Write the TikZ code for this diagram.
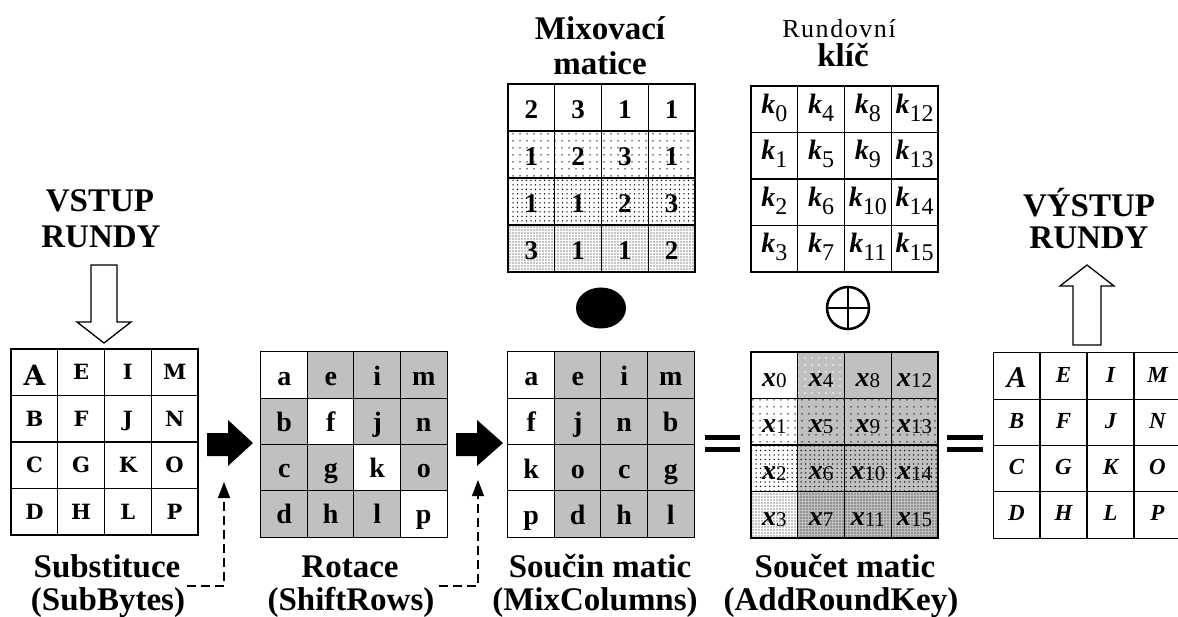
\documentclass[tikz,border=0pt]{standalone}
\usepackage{fontspec}
\setmainfont{Liberation Serif}
\newfontfamily\dejaserif{DejaVu Serif}
\usetikzlibrary{patterns.meta,arrows.meta,shapes.geometric}
\definecolor{cgray}{HTML}{C0C0C0}
\newcommand\fsz[1]{\fontsize{#1}{#1}\selectfont}
\newcommand\kk[1]{{\bfseries\itshape k}\raisebox{-8pt}{\fsz{24}#1}}
\newcommand\xx[1]{{\bfseries\itshape x}\raisebox{-1pt}{\fsz{21}#1}}
\tikzset{
 cell/.style={draw=black, line width=1.2pt, minimum width=46.75pt, minimum height=46.5pt, inner sep=0pt, text depth=0pt},
 lbl/.style={font=\fsz{33}\bfseries, inner sep=0pt, anchor=base},
 hollow/.style={draw=black, line width=1.3pt, fill=white, line join=miter},
 dasharrow/.style={draw=black, line width=1.2pt, dash pattern=on 9pt off 5pt, -{Triangle[width=12pt,length=16pt]}},
 sparse/.style={pattern={Dots[distance=6.5pt,radius=0.8pt]}, pattern color=black},
 medium/.style={pattern={Dots[distance=4.5pt,radius=0.75pt]}, pattern color=black},
 dense/.style={pattern={Dots[distance=3pt,radius=0.65pt]}, pattern color=black},
 wsparse/.style={pattern={Dots[distance=7pt,radius=0.8pt]}, pattern color=white},
 bararrow/.style={fill=black},
}
\begin{document}
\begin{tikzpicture}[x=1pt,y=-1pt]
\useasboundingbox (0,0) rectangle (1178,617);

% ---------- input state ----------
\foreach \t [count=\i from 0] in {{\raisebox{-6pt}{\fsz{28}\bfseries A}},E,I,M,B,F,J,N,C,G,K,O,D,H,L,P} {
  \pgfmathtruncatemacro\ri{\i/4}
  \pgfmathtruncatemacro\ci{mod(\i,4)}
  \node[cell, font=\dejaserif\fsz{21}\bfseries, text height=15pt] (in-\ri-\ci) at ({11+46.75*(\ci+0.5)},{349+46.5*(\ri+0.5)}) {\t};
}

% ---------- ShiftRows ----------
\foreach \t/\f [count=\i from 0] in {a/white,e/cgray,i/cgray,m/cgray,b/cgray,f/white,j/cgray,n/cgray,c/cgray,g/cgray,k/white,o/cgray,d/cgray,h/cgray,l/cgray,p/white} {
  \pgfmathtruncatemacro\ri{\i/4}
  \pgfmathtruncatemacro\ci{mod(\i,4)}
  \node[cell, fill=\f, font=\fsz{28}\bfseries, text height=20pt] (sr-\ri-\ci) at ({261+46.5*(\ci+0.5)},{352+46.25*(\ri+0.5)}) {\t};
}

% ---------- mix matrix ----------
\path[sparse] (508,131) rectangle (695,178);
\path[medium] (508,178) rectangle (695,225);
\path[dense] (508,225) rectangle (695,272);
\foreach \t [count=\i from 0] in {2,3,1,1,1,2,3,1,1,1,2,3,3,1,1,2} {
  \pgfmathtruncatemacro\ri{\i/4}
  \pgfmathtruncatemacro\ci{mod(\i,4)}
  \node[cell, minimum height=47pt, font=\fsz{27}\bfseries, text height=22pt] (mx-\ri-\ci) at ({508+46.75*(\ci+0.5)},{84+47*(\ri+0.5)}) {\t};
}

% ---------- round key ----------
\foreach \t [count=\i from 0] in {0,4,8,12,1,5,9,13,2,6,10,14,3,7,11,15} {
  \pgfmathtruncatemacro\ri{\i/4}
  \pgfmathtruncatemacro\ci{mod(\i,4)}
  \node[cell, font=\fsz{28}, text height=8pt] (rk-\ri-\ci) at ({751+46.75*(\ci+0.5)},{86+46.5*(\ri+0.5)}) {\kk{\t}};
}

% ---------- MixColumns result ----------
\foreach \t/\f [count=\i from 0] in {a/white,e/cgray,i/cgray,m/cgray,f/white,j/cgray,n/cgray,b/cgray,k/white,o/cgray,c/cgray,g/cgray,p/white,d/cgray,h/cgray,l/cgray} {
  \pgfmathtruncatemacro\ri{\i/4}
  \pgfmathtruncatemacro\ci{mod(\i,4)}
  \node[cell, fill=\f, font=\fsz{28}\bfseries, text height=21pt] (mc-\ri-\ci) at ({508+46.5*(\ci+0.5)},{352+46.25*(\ri+0.5)}) {\t};
}

% ---------- AddRoundKey result ----------
\fill[cgray] (797.75,352) rectangle (938,538);
\path[wsparse] (797.75,352) rectangle (844.5,398.5);
\path[sparse] (751,398.5) rectangle (938,445);
\path[medium] (751,445) rectangle (938,491.5);
\path[dense] (751,491.5) rectangle (938,538);
\foreach \t [count=\i from 0] in {0,4,8,12,1,5,9,13,2,6,10,14,3,7,11,15} {
  \pgfmathtruncatemacro\ri{\i/4}
  \pgfmathtruncatemacro\ci{mod(\i,4)}
  \node[cell, font=\fsz{28}, text height=22pt] (ak-\ri-\ci) at ({751+46.75*(\ci+0.5)},{352+46.5*(\ri+0.5)}) {\xx{\t}};
}

% ---------- output state ----------
\foreach \t [count=\i from 0] in {{\raisebox{-5pt}{\fsz{30}A}},E,I,M,B,F,J,N,C,G,K,O,D,H,L,P} {
  \pgfmathtruncatemacro\ri{\i/4}
  \pgfmathtruncatemacro\ci{mod(\i,4)}
  \node[cell, font=\fsz{23}\bfseries\itshape, text height=12pt] (out-\ri-\ci) at ({993+47*(\ci+0.5)},{353+46.25*(\ri+0.5)}) {\t};
}

% ---------- labels ----------
\node[lbl] (vs1) at (100,212) {VSTUP};
\node[lbl] (vs2) at (101,248) {RUNDY};
\node[lbl] (vy1) at (1089,217) {VÝSTUP};
\node[lbl] (vy2) at (1089,249) {RUNDY};
\node[lbl] (mt1) at (600,40) {Mixovací};
\node[lbl] (mt2) at (600,75) {matice};
\node[lbl, font=\fsz{26}\addfontfeature{LetterSpace=6}] (kl1) at (839,38) {Rundovní};
\node[lbl] (kl2) at (843,67) {klíč};
\node[lbl] (sb1) at (107,577) {Substituce};
\node[lbl] (sb2) at (108,610) {(SubBytes)};
\node[lbl] (sh1) at (350,577) {Rotace};
\node[lbl] (sh2) at (351,610) {(ShiftRows)};
\node[lbl] (mc1) at (600,577) {Součin matic};
\node[lbl] (mc2) at (595,610) {(MixColumns)};
\node[lbl] (ad1) at (845,577) {Součet matic};
\node[lbl] (ad2) at (841,610) {(AddRoundKey)};

% ---------- hollow in/out arrows ----------
\draw[hollow] (91,265) -- (117,265) -- (117,322) -- (131,322) -- (104,343) -- (77,322) -- (91,322) -- cycle;
\draw[hollow] (1087,265) -- (1114,286) -- (1101,286) -- (1101,345) -- (1073,345) -- (1073,286) -- (1060,286) -- cycle;

% ---------- black block arrows ----------
\fill[bararrow] (207,433) -- (228,433) -- (228,420) -- (253,443) -- (228,466) -- (228,456) -- (207,456) -- cycle;
\fill[bararrow] (456,433) -- (477,433) -- (477,420) -- (503,443) -- (477,466) -- (477,456) -- (456,456) -- cycle;

% ---------- dashed arrows ----------
\coordinate (d1a) at (187,586);
\coordinate (d1b) at (224,482);
\coordinate (d2a) at (439,586);
\coordinate (d2b) at (478,480);
\draw[dasharrow] (d1a) -| (d1b);
\draw[dasharrow] (d2a) -| (d2b);

% ---------- operators ----------
\node[ellipse, fill=black, minimum width=50pt, minimum height=41pt, inner sep=0pt] (dot) at (601,308) {};
\node[circle, draw=black, line width=2.5pt, minimum size=42pt, inner sep=0pt] (xor) at (848,308) {};
\draw[line width=2.5pt] (xor.west) -- (xor.east) (xor.north) -- (xor.south);
\fill (705,435) rectangle (740,440);
\fill (705,447) rectangle (740,452);
\fill (947,435) rectangle (983,440);
\fill (947,447) rectangle (983,452);
\end{tikzpicture}
\end{document}
